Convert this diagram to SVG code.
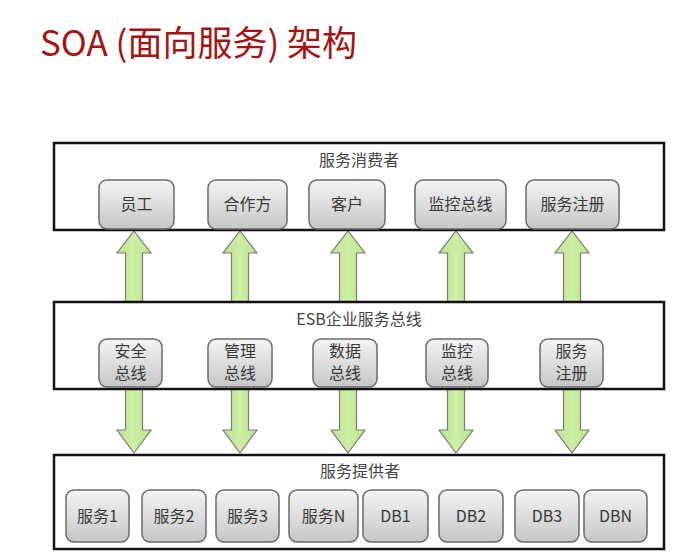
<svg xmlns="http://www.w3.org/2000/svg" width="692" height="560" viewBox="0 0 692 560">
<defs>
<linearGradient id="ng" x1="0" y1="0" x2="0" y2="1">
<stop offset="0" stop-color="#f4f4f4"/>
<stop offset="1" stop-color="#c6c6c6"/>
</linearGradient>
<linearGradient id="ag" x1="0" y1="0" x2="1" y2="0">
<stop offset="0" stop-color="#b9e38c"/>
<stop offset="0.5" stop-color="#cdefa6"/>
<stop offset="1" stop-color="#b9e38c"/>
</linearGradient>
</defs>
<style>
.box{fill:#fff;stroke:#111;stroke-width:2.5}
.node{fill:url(#ng);stroke:#6a6a6a;stroke-width:1.5}
.t{font-family:"Noto Sans CJK SC","Liberation Sans",sans-serif;font-size:16px;fill:#3a3a3a;text-anchor:middle}
.h{font-family:"Noto Sans CJK SC","Liberation Sans",sans-serif;font-size:16px;fill:#444;text-anchor:middle}
.arr{fill:url(#ag);stroke:#7a7a7a;stroke-width:1.2}
</style>
<rect width="692" height="560" fill="#fff"/>
<text x="40" y="56" font-family="'Noto Sans CJK SC','Liberation Sans',sans-serif" font-size="35" fill="#a31414">SOA (面向服务) 架构</text>

<g id="connectors">
<polygon class="arr" points="134,231 151,253 142.5,253 142.5,302 125.5,302 125.5,253 117,253"/>
<polygon class="arr" points="240,231 257,253 248.5,253 248.5,302 231.5,302 231.5,253 223,253"/>
<polygon class="arr" points="348,231 365,253 356.5,253 356.5,302 339.5,302 339.5,253 331,253"/>
<polygon class="arr" points="456,231 473,253 464.5,253 464.5,302 447.5,302 447.5,253 439,253"/>
<polygon class="arr" points="572,231 589,253 580.5,253 580.5,302 563.5,302 563.5,253 555,253"/>
<polygon class="arr" points="134,453 151,430 142.5,430 142.5,389 125.5,389 125.5,430 117,430"/>
<polygon class="arr" points="240,453 257,430 248.5,430 248.5,389 231.5,389 231.5,430 223,430"/>
<polygon class="arr" points="348,453 365,430 356.5,430 356.5,389 339.5,389 339.5,430 331,430"/>
<polygon class="arr" points="456,453 473,430 464.5,430 464.5,389 447.5,389 447.5,430 439,430"/>
<polygon class="arr" points="572,453 589,430 580.5,430 580.5,389 563.5,389 563.5,430 555,430"/>
</g>

<g id="consumer">
<rect class="box" x="54" y="143" width="610" height="87"/>
<text class="h" x="359" y="166">服务消费者</text>
</g>
<g id="n-yuangong"><rect class="node" x="99" y="180" width="75" height="49" rx="8"/><text class="t" x="136.5" y="210">员工</text></g>
<g id="n-hezuofang"><rect class="node" x="208" y="180" width="79" height="49" rx="8"/><text class="t" x="247.5" y="210">合作方</text></g>
<g id="n-kehu"><rect class="node" x="309" y="180" width="76" height="49" rx="8"/><text class="t" x="347" y="210">客户</text></g>
<g id="n-jiankong1"><rect class="node" x="415" y="180" width="91" height="49" rx="8"/><text class="t" x="460.5" y="210">监控总线</text></g>
<g id="n-zhuce1"><rect class="node" x="526" y="180" width="93" height="49" rx="8"/><text class="t" x="572.5" y="210">服务注册</text></g>

<g id="esb">
<rect class="box" x="54" y="302" width="610" height="87"/>
<text class="h" x="359" y="325">ESB企业服务总线</text>
</g>
<g id="n-anquan"><rect class="node" x="99" y="339" width="63" height="48" rx="8"/><text class="t" x="130.5" y="357">安全</text><text class="t" x="130.5" y="379">总线</text></g>
<g id="n-guanli"><rect class="node" x="208" y="339" width="64" height="48" rx="8"/><text class="t" x="240" y="357">管理</text><text class="t" x="240" y="379">总线</text></g>
<g id="n-shuju"><rect class="node" x="313" y="339" width="64" height="48" rx="8"/><text class="t" x="345" y="357">数据</text><text class="t" x="345" y="379">总线</text></g>
<g id="n-jiankong2"><rect class="node" x="426" y="339" width="62" height="48" rx="8"/><text class="t" x="457" y="357">监控</text><text class="t" x="457" y="379">总线</text></g>
<g id="n-zhuce2"><rect class="node" x="540" y="339" width="63" height="48" rx="8"/><text class="t" x="571.5" y="357">服务</text><text class="t" x="571.5" y="379">注册</text></g>

<g id="provider">
<rect class="box" x="54" y="455" width="610" height="94"/>
<text class="h" x="360" y="477">服务提供者</text>
</g>
<g id="n-s1"><rect class="node" x="66" y="490" width="63" height="52" rx="8"/><text class="t" x="97.5" y="522">服务1</text></g>
<g id="n-s2"><rect class="node" x="142" y="490" width="64" height="52" rx="8"/><text class="t" x="174" y="522">服务2</text></g>
<g id="n-s3"><rect class="node" x="216" y="490" width="63" height="52" rx="8"/><text class="t" x="247.5" y="522">服务3</text></g>
<g id="n-sn"><rect class="node" x="289" y="490" width="69" height="52" rx="8"/><text class="t" x="323.5" y="522">服务N</text></g>
<g id="n-db1"><rect class="node" x="363" y="490" width="65" height="52" rx="8"/><text class="t" x="395.5" y="522">DB1</text></g>
<g id="n-db2"><rect class="node" x="439" y="490" width="64" height="52" rx="8"/><text class="t" x="471" y="522">DB2</text></g>
<g id="n-db3"><rect class="node" x="515" y="490" width="64" height="52" rx="8"/><text class="t" x="547" y="522">DB3</text></g>
<g id="n-dbn"><rect class="node" x="584" y="490" width="63" height="52" rx="8"/><text class="t" x="615.5" y="522">DBN</text></g>
</svg>
